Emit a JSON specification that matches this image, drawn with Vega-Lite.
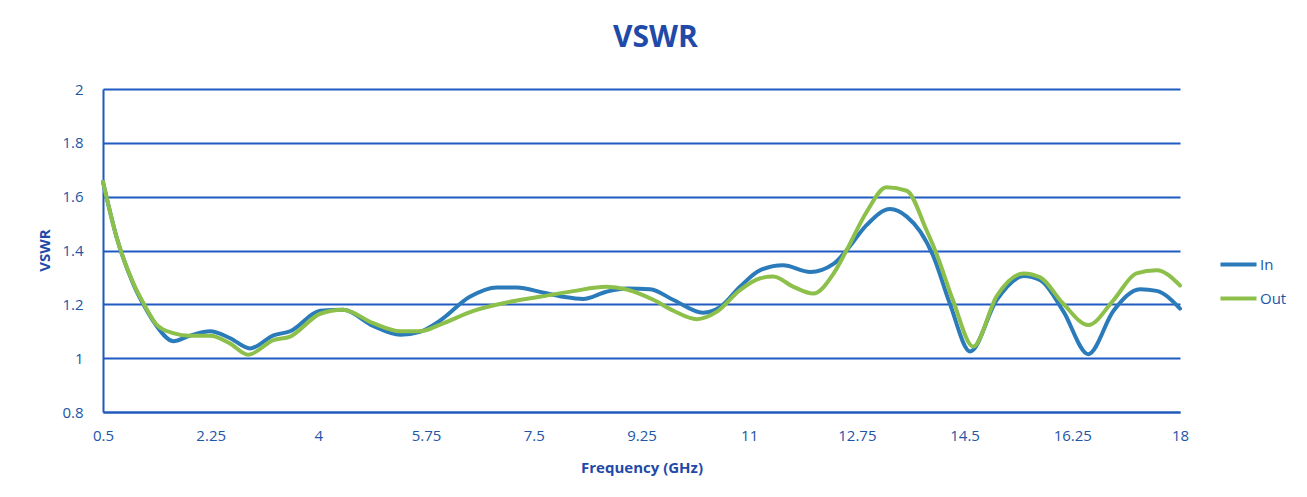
{
  "$schema": "https://vega.github.io/schema/vega-lite/v6.json",
  "autosize": {"type": "none"},
  "width": 1077,
  "height": 323,
  "padding": {"left": 103, "top": 89, "right": 127, "bottom": 85},
  "background": "#ffffff",
  "title": {
    "text": "VSWR",
    "font": "Open Sans",
    "fontSize": 30,
    "fontWeight": "bold",
    "color": "#1F4AA8",
    "anchor": "middle",
    "dx": 14,
    "offset": 29
  },
  "config": {
    "view": {"stroke": null},
    "font": "Open Sans"
  },
  "data": {
    "values": [
      {"f": 0.5, "v": 1.655, "s": "In"},
      {"f": 0.72, "v": 1.45, "s": "In"},
      {"f": 0.99, "v": 1.277, "s": "In"},
      {"f": 1.18, "v": 1.19, "s": "In"},
      {"f": 1.37, "v": 1.12, "s": "In"},
      {"f": 1.64, "v": 1.063, "s": "In"},
      {"f": 1.91, "v": 1.083, "s": "In"},
      {"f": 2.24, "v": 1.1, "s": "In"},
      {"f": 2.56, "v": 1.075, "s": "In"},
      {"f": 2.89, "v": 1.036, "s": "In"},
      {"f": 3.27, "v": 1.085, "s": "In"},
      {"f": 3.54, "v": 1.1, "s": "In"},
      {"f": 4.03, "v": 1.176, "s": "In"},
      {"f": 4.4, "v": 1.18, "s": "In"},
      {"f": 4.89, "v": 1.12, "s": "In"},
      {"f": 5.33, "v": 1.087, "s": "In"},
      {"f": 5.65, "v": 1.098, "s": "In"},
      {"f": 5.98, "v": 1.14, "s": "In"},
      {"f": 6.46, "v": 1.228, "s": "In"},
      {"f": 6.9, "v": 1.263, "s": "In"},
      {"f": 7.22, "v": 1.263, "s": "In"},
      {"f": 7.66, "v": 1.243, "s": "In"},
      {"f": 7.98, "v": 1.228, "s": "In"},
      {"f": 8.3, "v": 1.22, "s": "In"},
      {"f": 8.68, "v": 1.247, "s": "In"},
      {"f": 9.01, "v": 1.259, "s": "In"},
      {"f": 9.39, "v": 1.256, "s": "In"},
      {"f": 9.77, "v": 1.216, "s": "In"},
      {"f": 10.25, "v": 1.169, "s": "In"},
      {"f": 10.53, "v": 1.19, "s": "In"},
      {"f": 10.85, "v": 1.265, "s": "In"},
      {"f": 11.18, "v": 1.327, "s": "In"},
      {"f": 11.55, "v": 1.345, "s": "In"},
      {"f": 11.99, "v": 1.32, "s": "In"},
      {"f": 12.37, "v": 1.35, "s": "In"},
      {"f": 12.58, "v": 1.4, "s": "In"},
      {"f": 12.91, "v": 1.495, "s": "In"},
      {"f": 13.29, "v": 1.554, "s": "In"},
      {"f": 13.56, "v": 1.526, "s": "In"},
      {"f": 13.78, "v": 1.47, "s": "In"},
      {"f": 13.99, "v": 1.38, "s": "In"},
      {"f": 14.26, "v": 1.203, "s": "In"},
      {"f": 14.59, "v": 1.025, "s": "In"},
      {"f": 15.02, "v": 1.216, "s": "In"},
      {"f": 15.46, "v": 1.305, "s": "In"},
      {"f": 15.73, "v": 1.29, "s": "In"},
      {"f": 16.1, "v": 1.176, "s": "In"},
      {"f": 16.51, "v": 1.015, "s": "In"},
      {"f": 16.92, "v": 1.176, "s": "In"},
      {"f": 17.35, "v": 1.256, "s": "In"},
      {"f": 17.62, "v": 1.25, "s": "In"},
      {"f": 18, "v": 1.184, "s": "In"},
      {"f": 0.5, "v": 1.655, "s": "Out"},
      {"f": 0.72, "v": 1.45, "s": "Out"},
      {"f": 0.99, "v": 1.28, "s": "Out"},
      {"f": 1.18, "v": 1.195, "s": "Out"},
      {"f": 1.37, "v": 1.125, "s": "Out"},
      {"f": 1.64, "v": 1.093, "s": "Out"},
      {"f": 1.91, "v": 1.083, "s": "Out"},
      {"f": 2.24, "v": 1.083, "s": "Out"},
      {"f": 2.56, "v": 1.055, "s": "Out"},
      {"f": 2.86, "v": 1.013, "s": "Out"},
      {"f": 3.27, "v": 1.067, "s": "Out"},
      {"f": 3.54, "v": 1.08, "s": "Out"},
      {"f": 4.03, "v": 1.165, "s": "Out"},
      {"f": 4.4, "v": 1.18, "s": "Out"},
      {"f": 4.89, "v": 1.13, "s": "Out"},
      {"f": 5.33, "v": 1.1, "s": "Out"},
      {"f": 5.65, "v": 1.1, "s": "Out"},
      {"f": 5.98, "v": 1.125, "s": "Out"},
      {"f": 6.52, "v": 1.176, "s": "Out"},
      {"f": 7.06, "v": 1.207, "s": "Out"},
      {"f": 7.6, "v": 1.228, "s": "Out"},
      {"f": 8.14, "v": 1.249, "s": "Out"},
      {"f": 8.68, "v": 1.265, "s": "Out"},
      {"f": 9.01, "v": 1.255, "s": "Out"},
      {"f": 9.45, "v": 1.216, "s": "Out"},
      {"f": 9.77, "v": 1.176, "s": "Out"},
      {"f": 10.15, "v": 1.145, "s": "Out"},
      {"f": 10.47, "v": 1.172, "s": "Out"},
      {"f": 10.85, "v": 1.253, "s": "Out"},
      {"f": 11.18, "v": 1.297, "s": "Out"},
      {"f": 11.39, "v": 1.303, "s": "Out"},
      {"f": 11.72, "v": 1.265, "s": "Out"},
      {"f": 12.04, "v": 1.24, "s": "Out"},
      {"f": 12.37, "v": 1.314, "s": "Out"},
      {"f": 12.58, "v": 1.4, "s": "Out"},
      {"f": 12.91, "v": 1.544, "s": "Out"},
      {"f": 13.23, "v": 1.635, "s": "Out"},
      {"f": 13.56, "v": 1.622, "s": "Out"},
      {"f": 13.88, "v": 1.476, "s": "Out"},
      {"f": 14.04, "v": 1.39, "s": "Out"},
      {"f": 14.31, "v": 1.216, "s": "Out"},
      {"f": 14.64, "v": 1.043, "s": "Out"},
      {"f": 15.02, "v": 1.23, "s": "Out"},
      {"f": 15.46, "v": 1.315, "s": "Out"},
      {"f": 15.73, "v": 1.3, "s": "Out"},
      {"f": 16.1, "v": 1.203, "s": "Out"},
      {"f": 16.51, "v": 1.123, "s": "Out"},
      {"f": 16.92, "v": 1.216, "s": "Out"},
      {"f": 17.29, "v": 1.315, "s": "Out"},
      {"f": 17.62, "v": 1.327, "s": "Out"},
      {"f": 18, "v": 1.27, "s": "Out"}
    ]
  },
  "mark": {"type": "line", "interpolate": "monotone", "strokeWidth": 4, "strokeCap": "round"},
  "encoding": {
    "x": {
      "field": "f",
      "type": "quantitative",
      "scale": {"domain": [0.5, 18], "nice": false, "zero": false},
      "axis": {
        "title": "Frequency (GHz)",
        "values": [0.5, 2.25, 4, 5.75, 7.5, 9.25, 11, 12.75, 14.5, 16.25, 18],
        "labelExpr": "toString(datum.value)",
        "grid": false,
        "ticks": false,
        "domainColor": "#1F5BB8",
        "domainWidth": 2,
        "labelFont": "Open Sans",
        "labelFontSize": 15,
        "labelColor": "#2155A8",
        "labelPadding": 16,
        "labelFlush": false,
        "titleFont": "Open Sans",
        "titleFontSize": 15,
        "titleFontWeight": "bold",
        "titleColor": "#1F4AA8",
        "titleY": 55,
        "titleBaseline": "middle"
      }
    },
    "y": {
      "field": "v",
      "type": "quantitative",
      "scale": {"domain": [0.8, 2], "nice": false, "zero": false},
      "axis": {
        "title": "VSWR",
        "values": [0.8, 1, 1.2, 1.4, 1.6, 1.8, 2],
        "labelExpr": "toString(datum.value)",
        "grid": true,
        "gridColor": "#1F5BC0",
        "gridWidth": 1.8,
        "gridOpacity": 1,
        "ticks": false,
        "domainColor": "#1F5BB8",
        "domainWidth": 2,
        "labelFont": "Open Sans",
        "labelFontSize": 15,
        "labelColor": "#2155A8",
        "labelPadding": 20,
        "titleFont": "Open Sans",
        "titleFontSize": 15,
        "titleFontWeight": "bold",
        "titleColor": "#1F4AA8",
        "titleX": -59,
        "titleY": 161,
        "titleAlign": "center",
        "titleBaseline": "middle",
        "titleAngle": -90
      }
    },
    "color": {
      "field": "s",
      "type": "nominal",
      "scale": {"domain": ["In", "Out"], "range": ["#2B7BBA", "#8CC04B"]},
      "legend": {
        "title": null,
        "orient": "none",
        "legendX": 1115,
        "legendY": 155,
        "symbolType": "stroke",
        "symbolSize": 1300,
        "symbolStrokeWidth": 4,
        "labelFont": "Open Sans",
        "labelFontSize": 15,
        "labelColor": "#2155A8",
        "labelOffset": 1,
        "rowPadding": 5
      }
    }
  }
}
